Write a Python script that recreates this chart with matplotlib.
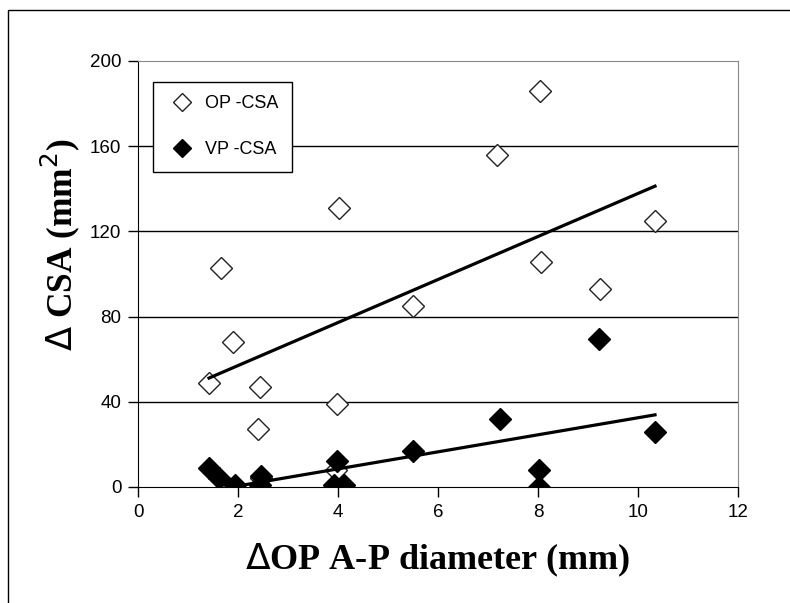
import numpy as np
import matplotlib.pyplot as plt
from matplotlib.patches import Rectangle

# data
op_x = [1.42, 1.66, 1.9, 2.44, 2.4, 4.02, 3.98, 5.5, 7.18, 8.04, 8.06, 9.24, 10.34, 2.46, 3.95]
op_y = [49, 103, 68, 47, 27, 131, 39, 85, 156, 186, 105.5, 93, 125, 4, 8]
vp_x = [1.42, 1.62, 1.94, 2.44, 2.46, 3.98, 3.92, 4.12, 5.5, 7.24, 8.02, 8.02, 9.22, 10.34]
vp_y = [9, 4, 1, 1, 5, 12, 1, 1, 17, 32, 8, 0, 69.5, 26]

# trend lines (slope, intercept) as drawn in the chart
op_trend = [10.1, 36.8]
vp_trend = [4.0, -7.5]

plt.rcParams['font.family'] = ['Liberation Sans', 'DejaVu Sans']

fig = plt.figure(figsize=(7.9, 6.03), dpi=100)
ax = fig.add_axes([0.1747, 0.1924, 0.7595, 0.7065])

for yv in [40, 80, 120, 160]:
    ax.axhline(yv, color='black', lw=1.0, zorder=1)

ax.plot(op_x, op_y, linestyle='none', marker='D', markersize=11, markerfacecolor='white',
        markeredgecolor='#222222', markeredgewidth=1.0, label='OP -CSA', zorder=3)
ax.plot(vp_x, vp_y, linestyle='none', marker='D', markersize=11, markerfacecolor='black',
        markeredgecolor='black', label='VP -CSA', zorder=4)

for xs, (m, b) in [(op_x, op_trend), (vp_x, vp_trend)]:
    tx = np.array([min(xs), max(xs)])
    ax.plot(tx, m * tx + b, color='black', lw=2.3, zorder=5)

ax.set_xlim(0, 12)
ax.set_ylim(0, 200)
ax.set_xticks(range(0, 13, 2))
ax.set_yticks(range(0, 201, 40))
ax.tick_params(direction='out', length=7, width=1, labelsize=13.5, color='black', pad=5)
ax.spines['left'].set_color('black')
ax.spines['bottom'].set_color('black')
ax.spines['top'].set_color('#888888')
ax.spines['right'].set_color('#888888')
ax.spines['bottom'].set_zorder(6)

ax.set_xlabel(r'$\Delta$OP A-P diameter (mm)', family='Liberation Serif', weight='bold',
              fontsize=26)
ax.set_ylabel(r'$\Delta$ CSA (mm$^2$)', family='Liberation Serif', weight='bold',
              fontsize=25.5)
ax.xaxis.set_label_coords(0.5, -0.171)
ax.xaxis.label.set_va('center')
ax.yaxis.set_label_coords(-0.13, 0.568)
ax.yaxis.label.set_va('center')

leg = ax.legend(loc='upper left', bbox_to_anchor=(0.025, 0.951), borderaxespad=0,
                frameon=True, fancybox=False, framealpha=1, edgecolor='black',
                fontsize=13, labelspacing=1.6, borderpad=0.75, handletextpad=0.42,
                handlelength=1.72, markerscale=0.8)
leg.get_frame().set_linewidth(1.0)

# outer frame around the whole picture
fig.patches.append(Rectangle((8 / 790, -0.1), 1.2, 1 - 10 / 603 + 0.1, transform=fig.transFigure,
                             fill=False, edgecolor='black', lw=1.0))

fig.savefig('out.png', dpi=100)
